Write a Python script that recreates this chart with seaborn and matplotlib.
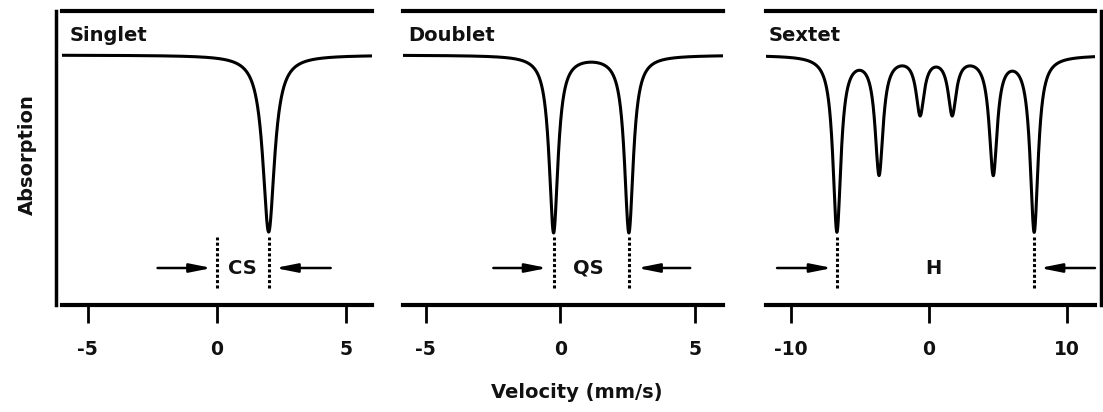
import numpy as np
import pandas as pd
import matplotlib.pyplot as plt
import seaborn as sns

# peaks: centre (mm/s), relative depth, width
singlet_pos = [2.0]
singlet_depth = [1.0]
doublet_pos = [-0.25, 2.55]
doublet_depth = [1.0, 1.0]
sextet_pos = [-6.67, -3.62, -0.65, 1.67, 4.64, 7.6]
sextet_depth = [0.99, 0.66, 0.32, 0.32, 0.66, 0.99]
widths = [0.55, 0.4, 0.7]

titles = ['Singlet', 'Doublet', 'Sextet']
xlims = [(-6, 6), (-5.85, 6.05), (-11.8, 12.0)]
xticks = [[-5, 0, 5], [-5, 0, 5], [-10, 0, 10]]
title_x = [-5.7, -5.65, -11.6]
# dotted marker lines and the arrow pairs (tail, tip)
marks = [[0, 2.0], [-0.25, 2.55], [-6.67, 7.6]]
arrows_left = [(-2.3, -0.2), (-2.49, -0.48), (-11.0, -7.0)]
arrows_right = [(4.4, 2.25), (4.83, 2.86), (12.0, 8.0)]
labels = ['CS', 'QS', 'H']
label_x = [1.0, 1.04, 0.3]


def spectrum(v, pos, depth, g):
    y = np.zeros_like(v)
    for p, d in zip(pos, depth):
        y -= d * (g / 2) ** 2 / ((v - p) ** 2 + (g / 2) ** 2)
    return y


sns.set_style('ticks')
plt.rcParams['font.family'] = ['DejaVu Sans']
plt.rcParams['font.weight'] = 'bold'
plt.rcParams['axes.unicode_minus'] = False

fig = plt.figure(figsize=(11.03, 4.12), dpi=100)
W, H = 1103, 412
boxes = [(62, 372), (403, 723), (766, 1095)]
peaks = [(singlet_pos, singlet_depth), (doublet_pos, doublet_depth), (sextet_pos, sextet_depth)]

for i in range(3):
    l, r = boxes[i]
    ax = fig.add_axes([l / W, 1 - 305 / H, (r - l) / W, 294 / H])
    v = np.linspace(xlims[i][0], xlims[i][1], 2000)
    df = pd.DataFrame({'v': v, 'a': spectrum(v, peaks[i][0], peaks[i][1], widths[i])})
    sns.lineplot(data=df, x='v', y='a', ax=ax, color='black', lw=2.2)
    ax.set_xlim(*xlims[i])
    ax.set_ylim(-1.412, 0.249)
    ax.set_xlabel('')
    ax.set_ylabel('')
    ax.set_yticks([])
    ax.set_xticks(xticks[i])
    ax.tick_params(axis='x', bottom=True, direction='out', length=13, width=2, pad=12,
                   labelsize=13.5, color='black', labelcolor='#111111')
    ax.tick_params(axis='y', left=False, right=False)
    for s in ['top', 'bottom', 'left', 'right']:
        ax.spines[s].set_color('black')
        ax.spines[s].set_linewidth(3)
        ax.spines[s].set_visible(s in ('top', 'bottom'))
    if i == 0:
        ax.spines['left'].set_visible(True)
        ax.spines['left'].set_linewidth(2.5)
        ax.spines['left'].set_position(('outward', 4))
    if i == 2:
        ax.spines['right'].set_visible(True)
        ax.spines['right'].set_linewidth(2.5)
        ax.spines['right'].set_position(('outward', 4))

    ax.text(title_x[i], 0.11, titles[i], fontsize=14, va='center', ha='left', color='#111111')
    ax.vlines(marks[i], -1.316, -1.028, colors='black', lw=2.2, linestyles=(0, (1, 0.75)))
    for tail, tip in (arrows_left[i], arrows_right[i]):
        ax.annotate('', xy=(tip, -1.203), xytext=(tail, -1.203),
                    arrowprops=dict(arrowstyle='-|>,head_length=0.65,head_width=0.13',
                                    color='black', lw=1.8, mutation_scale=20,
                                    shrinkA=0, shrinkB=0))
    ax.text(label_x[i], -1.203, labels[i], fontsize=14, ha='center', va='center', color='#111111')

fig.text(27 / W, 1 - 155 / H, 'Absorption', rotation=90, fontsize=14, ha='center', va='center', color='#111111')
fig.text(577 / W, 1 - 393 / H, 'Velocity (mm/s)', fontsize=14, ha='center', va='center', color='#111111')

fig.savefig('out.png', dpi=100)
